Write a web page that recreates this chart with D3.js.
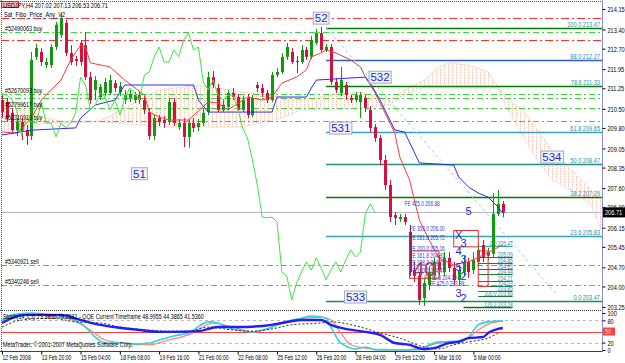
<!DOCTYPE html>
<html><head><meta charset="utf-8">
<script src="https://cdn.jsdelivr.net/npm/d3@7"></script>
<style>
html,body{margin:0;padding:0;background:#fff;}
svg{display:block;font-family:"Liberation Sans",Arial,sans-serif;}
</style></head><body>
<svg id="c" width="625" height="363"></svg>
<script>
// ---------- DATA ----------
const opens  = [210.82,210.75,210.35,209.72,210.02,209.72,209.50,212.40,212.58,212.10,212.10,212.76,213.20,213.64,212.54,212.32,212.91,212.83,211.66,211.19,210.93,211.08,211.08,211.44,211.11,210.82,210.90,210.82,211.00,210.82,210.38,209.50,210.16,210.09,210.02,210.75,209.83,209.98,209.47,209.98,209.83,209.98,210.38,211.66,211.26,210.46,210.57,211.08,210.93,210.46,210.90,210.27,211.37,211.26,211.08,210.82,211.74,211.85,212.40,212.58,212.25,212.21,212.65,212.40,212.91,213.27,212.65,212.76,211.48,211.08,211.37,210.90,210.82,210.75,210.90,210.46,209.83,209.43,208.63,207.71,206.61,206.47,206.54,206.00,204.60,204.39,203.58,204.06,204.42,204.90,204.53,205.05,204.68,204.24,204.53,204.90,204.60,204.90,205.52,205.12,205.19,206.65,207.02];
const highs  = [211.00,210.90,210.53,210.16,210.16,209.91,212.58,212.87,212.72,212.36,212.87,213.68,214.00,213.75,212.83,212.43,213.02,213.31,211.85,211.70,211.41,211.63,211.74,211.55,211.48,211.19,211.19,211.11,211.11,210.97,210.53,210.31,210.27,210.24,210.90,210.90,210.13,210.16,210.13,210.16,210.13,210.53,211.85,211.88,211.41,210.82,211.19,211.26,211.04,210.97,211.04,211.00,211.48,211.41,211.19,211.85,211.99,212.54,212.91,212.72,212.43,212.83,212.76,213.16,213.42,213.49,212.87,212.87,211.63,212.03,211.48,211.00,211.11,211.11,211.00,210.60,209.94,209.54,208.81,207.90,206.72,206.65,206.65,206.25,204.90,204.53,204.27,204.75,205.05,205.16,205.26,205.26,204.90,204.79,205.12,205.05,205.26,205.56,205.70,205.41,207.42,207.53,207.13];
const lows   = [210.16,210.02,209.61,209.50,209.36,209.18,209.36,212.29,212.07,211.99,211.99,212.65,213.09,212.43,212.10,212.07,212.07,211.55,210.68,210.82,210.82,210.97,211.00,211.11,210.97,210.68,210.75,210.71,210.68,210.31,209.36,209.36,209.87,209.80,209.91,209.87,209.72,209.10,209.07,209.65,209.69,209.87,210.27,211.26,210.38,210.38,210.46,210.82,210.35,210.38,210.16,210.20,211.11,210.93,210.71,210.75,211.66,211.77,212.29,212.14,211.81,212.14,212.29,212.32,212.83,212.58,212.58,211.37,211.08,210.97,210.82,210.71,210.75,210.16,210.38,209.65,209.29,208.44,207.53,206.36,206.25,206.36,206.25,204.39,204.17,203.32,203.29,203.87,204.24,204.42,204.39,204.53,204.06,204.02,204.39,204.31,204.46,204.75,204.90,204.97,205.08,206.58,206.53];
const closes = [210.38,210.16,209.72,210.02,209.65,209.50,212.29,212.72,212.21,212.21,212.76,213.57,213.82,212.54,212.21,212.25,212.21,211.66,210.82,211.55,211.30,211.48,211.55,211.26,211.33,211.00,211.04,211.00,210.82,210.46,209.50,210.16,210.02,209.98,210.75,209.98,209.98,209.47,209.98,209.80,209.98,210.35,211.66,211.37,210.46,210.64,211.08,210.93,210.46,210.82,210.27,210.90,211.26,211.08,210.82,211.74,211.85,212.40,212.76,212.21,212.21,212.65,212.40,213.02,213.27,212.65,212.76,211.48,211.19,211.55,211.00,210.82,211.00,211.00,210.53,209.80,209.43,208.63,207.71,206.54,206.51,206.54,206.36,204.53,204.39,203.51,204.13,204.53,204.90,204.60,205.05,204.68,204.24,204.60,204.90,204.53,204.97,205.34,205.08,205.26,206.65,207.02,206.71];

// red & blue indicator lines: [bar, price]
const redLine = [[0,209.65],[3,209.61],[6,210.16],[8,210.82],[12,211.55],[14,212.29],[16,212.83],[17,212.76],[18,212.18],[22,212.03],[25,211.55],[29,211.00],[30,210.38],[32,210.20],[34,210.09],[38,210.09],[42,210.75],[44,210.71],[46,210.46],[50,210.93],[53,210.82],[55,210.93],[57,211.44],[60,211.66],[62,211.92],[63,212.40],[65,212.54],[66,212.65],[68,212.54],[71,212.29],[73,212.03],[74,211.66],[76,211.08],[78,210.35],[80,209.61],[81,208.74],[83,207.90],[84,207.16],[85,206.43],[87,205.70],[89,205.04],[92,204.79],[95,204.90],[98,205.15],[102,205.52]];
const blueLine = [[0,209.54],[6,209.72],[15,209.80],[16,210.16],[19,210.64],[23,210.82],[25,211.37],[39,211.37],[40,210.82],[42,210.38],[55,210.38],[56,210.93],[62,210.93],[63,211.26],[64,211.55],[74,211.66],[75,211.44],[77,210.82],[80,209.72],[82,209.65],[85,208.52],[92,208.44],[93,208.01],[95,207.64],[97,207.42],[99,207.27],[101,206.91],[102,206.69]];

// ichimoku cloud (bar index incl. future bars)
const cloudIdx = [0,4,8,12,20,28,32,40,49,57,61,67,73,79,82,86,89,91,95,99,101,103,106,109,112,116,120,122];
const spanA = [210.82,210.64,210.20,210.05,210.05,210.82,211.19,211.37,211.11,210.93,210.82,211.00,211.11,210.82,211.19,211.55,212.03,212.18,212.10,211.85,211.30,210.82,210.46,209.72,208.99,208.26,207.53,207.16];
const spanB = [209.72,209.72,209.95,210.00,210.02,209.91,209.83,209.83,209.83,210.16,210.46,210.46,210.53,210.64,211.00,211.30,211.30,211.26,211.26,211.26,211.26,210.46,209.54,208.63,207.90,207.53,206.98,206.07];

// horizontal levels
const redLevels = [213.82, 213.02];
const orderPrices = [213.31, 211.04, 210.90, 210.53, 210.05, 204.79, 204.06];
const orderText = ["#52490063 buy","#52670093 buy","","#52799617 buy","#52310910 buy","#5340921 sell","#5340246 sell"];
const bidPrice = 206.71;

// main fibo
const fibLevels = [213.47,212.27,211.33,209.65,208.47,207.29,205.83,203.47];
const fibText = ["100.0  213.47","88.0  212.27","78.6  211.33","61.8  209.65","50.0  208.47","38.2  207.29","23.6  205.83","0.0  203.47"];
const fibColors = ["#007a00","#2a5bd0","#007a00","#34a2bc","#23907c","#007a00","#34a2bc","#1b8a5a"];
const fibStart = 66;
// small fibo near last bars
const smallFibLevels = [205.47,205.09,204.86,204.63,204.44,204.21,204.03,203.85,203.66];
const smallFibText = ["0.0  205.47","205.09","204.86","204.63","204.44","204.21","204.03","203.85","100.0  203.66"];
const extLevel = 203.24, extText = "120.2  203.24";

// trend line
const trend = [[66,213.47],[113,203.70]];

// wave labels
const waveText = ["52","532","531","534","51","533"];
const waveIdx = [65,77,69,112,28,72];
const wavePrice = [213.82,211.66,209.80,208.74,208.13,203.62];

// FE labels
const feText = ["FE 425.0  206.88","FE 300.0  206.00","FE 261.8  205.72","FE 200.0  205.16","FE 161.8  204.91","FE 138.2  204.75","FE 100.0  204.47","FE 61.8  204.19","FE 425.0  203.98"];
const feIdx = [82,83,83,83,83,83,83,86,87];
const fePrice = [206.94,206.03,205.70,205.30,205.03,204.77,204.50,204.25,204.02];
const blobText = ["X","3","4","3","5","2","3","2","5"];
const blobIdx = [93,94,93,94,93,94,93,94,95];
const blobPrice = [205.75,205.45,205.15,204.85,204.55,204.25,203.62,203.42,206.62];
const redBoxes = [[83,89,205.30,204.30],[92,97,206.05,205.45],[97,99,205.30,204.00]];

// oscillator series [bar, value]
const oscBlue = [[0,73],[2,86],[5,95],[10,95],[12,95],[16,81],[20,68],[24,60],[28,54],[32,49],[35,49],[40,51],[44,62],[48,62],[53,65],[57,73],[61,81],[65,81],[67,68],[70,57],[74,49],[77,41],[80,19],[83,14],[86,2],[88,5],[91,19],[93,22],[95,32],[98,35],[99,46],[101,57],[102,59.5]];
const oscCyan = [[0,81],[1,89],[2,95],[6,100],[10,95],[14,86],[17,62],[19,35],[21,19],[24,19],[27,16],[30,19],[32,27],[35,38],[38,46],[42,76],[44,73],[46,60],[48,54],[51,49],[54,57],[57,73],[61,86],[63,92],[66,86],[67,62],[69,19],[72,3],[74,8],[76,1],[78,1],[81,0],[85,1],[87,14],[89,22],[93,24],[95,35],[97,68],[99,76],[101,78],[102,78]];
const oscSalmon = [[0,81],[4,95],[13,86],[18,54],[21,27],[25,19],[30,14],[34,27],[38,41],[43,73],[47,62],[51,49],[55,62],[59,81],[65,89],[67,81],[69,46],[71,14],[74,5],[78,0],[82,0],[86,8],[89,19],[93,24],[95,32],[97,54],[99,70],[102,78]];
const oscDot = [[0,62],[4,81],[10,86],[15,76],[20,73],[24,62],[30,54],[34,51],[38,51],[42,62],[47,54],[51,51],[55,57],[59,68],[65,73],[67,76],[73,62],[77,46],[81,32],[86,8],[89,3],[92,14],[95,22],[99,32],[101,46]];
const oscLevels = [80, 20];
const oscMid = 50;

// axis labels
const priceTicks = [214.15,213.40,212.70,211.95,211.25,210.50,209.80,209.05,208.35,207.60,206.90,206.15,205.45,204.70,204.00,203.25];
const timeIdx = [0,8,16,24,32,40,48,56,64,72,80,88,96];
const timeLabels = ["12 Feb 2008","13 Feb 20:00","15 Feb 04:00","18 Feb 08:00","19 Feb 16:00","21 Feb 00:00","22 Feb 08:00","25 Feb 12:00","26 Feb 20:00","28 Feb 04:00","29 Feb 12:00","3 Mar 16:00","5 Mar 00:00"];
const oscTicks = [100, 80, 20, 0];
const headerText = "USDJPY,H4  207.02 207.13 206.53 206.71";
const indiName = "Sat_Fibo_Price_Any_V2";
const oscHeader = "Stoch(14,3,3) 73.3855 79.2581 - QQE Current Timeframe 48.9955 44.3865 41.5360";
const copyright = "MetaTrader, \u00a9 2001-2007 MetaQuotes Software Corp.";

// ---------- DRAW ----------
const svg = d3.select("#c");
const x = d3.scaleLinear().domain([0,122]).range([2, 2+122*4.91]);
const y = d3.scaleLinear().domain([203.25,214.15]).range([307,9]);
const yo = d3.scaleLinear().domain([0,100]).range([350,313]);
const RX = 602;

const defs = svg.append("defs");
defs.append("clipPath").attr("id","mclip").append("rect").attr("x",1).attr("y",2).attr("width",RX-1).attr("height",308);
defs.append("clipPath").attr("id","oclip").append("rect").attr("x",1).attr("y",311).attr("width",RX-1).attr("height",40);
const pat = defs.append("pattern").attr("id","hatch").attr("width",4).attr("height",2).attr("patternUnits","userSpaceOnUse");
pat.append("rect").attr("width",1).attr("height",1).attr("fill","#f4c2b2");

function stext(g, tx, ty, txt, o={}) {
  return g.append("text")
    .attr("transform", `translate(${tx},${ty}) scale(${o.sx||0.75},1)`)
    .attr("font-size", o.fs||7.5)
    .attr("fill", o.fill||"#000")
    .attr("text-anchor", o.anchor||"start")
    .attr("font-weight", o.fw||"normal")
    .text(txt);
}

const main = svg.append("g").attr("clip-path","url(#mclip)");

// cloud
const cloud = cloudIdx.map((d,k)=>({i:d,a:spanA[k],b:spanB[k]}));
main.append("path").datum(cloud)
  .attr("d", d3.area().x(d=>x(d.i)).y0(d=>y(d.b)).y1(d=>y(d.a)))
  .attr("fill","url(#hatch)");
main.append("path").datum(cloud).attr("d", d3.line().x(d=>x(d.i)).y(d=>y(d.a)))
  .attr("fill","none").attr("stroke","#f4b4a0").attr("stroke-dasharray","1,1");
main.append("path").datum(cloud).attr("d", d3.line().x(d=>x(d.i)).y(d=>y(d.b)))
  .attr("fill","none").attr("stroke","#cfc8e6").attr("stroke-dasharray","1,1");

// horizontal levels
redLevels.forEach(p=>{
  main.append("line").attr("x1",1).attr("x2",RX).attr("y1",Math.round(y(p))+0.5).attr("y2",Math.round(y(p))+0.5)
    .attr("stroke","#ff3030").attr("stroke-dasharray","8,3,2,3");
});
orderPrices.forEach((p,k)=>{
  const yy = Math.round(y(p))+0.5;
  main.append("line").attr("x1",1).attr("x2",RX).attr("y1",yy).attr("y2",yy)
    .attr("stroke","#3fd23f").attr("stroke-dasharray","6,3,2,3");
});
{
  const yy = Math.round(y(bidPrice))+0.5;
  main.append("line").attr("x1",1).attr("x2",RX).attr("y1",yy).attr("y2",yy).attr("stroke","#b4b4c8");
}

// fibo
fibLevels.forEach((p,k)=>{
  const yy = Math.round(y(p))+0.5;
  main.append("line").attr("x1",x(fibStart)).attr("x2",RX).attr("y1",yy).attr("y2",yy)
    .attr("stroke",fibColors[k]).attr("stroke-width",1.6);
  stext(main, RX-2, yy-2, fibText[k], {anchor:"end", fill:"#2a8ca6"});
});
// trend line
main.append("line").attr("x1",x(trend[0][0])).attr("y1",y(trend[0][1])).attr("x2",x(trend[1][0])).attr("y2",y(trend[1][1]))
  .attr("stroke","#7ddde6").attr("stroke-dasharray","3,3");

// small fibo
smallFibLevels.forEach((p,k)=>{
  const yy = Math.round(y(p))+0.5;
  main.append("line").attr("x1",x(97)).attr("x2",x(104)).attr("y1",yy).attr("y2",yy)
    .attr("stroke", k===0 ? "#34a2bc" : "#1d7a3a");
  stext(main, x(104), yy-1, smallFibText[k], {anchor:"end", fill:"#2a8ca6", fs:6.5});
});
{
  const yy = Math.round(y(extLevel))+0.5;
  main.append("line").attr("x1",x(94)).attr("x2",x(104)).attr("y1",yy).attr("y2",yy).attr("stroke","#007a00").attr("stroke-width",1.5);
  stext(main, x(104), yy-1, extText, {anchor:"end", fill:"#2a8ca6", fs:6.5});
}

// candles
const bars = opens.map((o,i)=>({i,o,h:highs[i],l:lows[i],c:closes[i]}));
const cg = main.append("g");
bars.forEach(d=>{
  const up = d.c >= d.o;
  const col = up ? "#109a10" : "#d4103c";
  const cx = Math.round(x(d.i));
  cg.append("line").attr("x1",cx+0.5).attr("x2",cx+0.5).attr("y1",y(d.h)).attr("y2",y(d.l)).attr("stroke",col);
  const top = y(Math.max(d.o,d.c)), bot = y(Math.min(d.o,d.c));
  cg.append("rect").attr("x",cx-1).attr("width",3).attr("y",top).attr("height",Math.max(1,bot-top)).attr("fill",col);
});

// indicator lines
main.append("path").datum(redLine).attr("d", d3.line().x(d=>x(d[0])).y(d=>y(d[1])))
  .attr("fill","none").attr("stroke","#ff3a3a");
main.append("path").datum(blueLine).attr("d", d3.line().x(d=>x(d[0])).y(d=>y(d[1])))
  .attr("fill","none").attr("stroke","#2a2aff");
const chikou = closes.slice(26).map((c,k)=>[k,c]);
main.append("path").datum(chikou).attr("d", d3.line().x(d=>x(d[0])).y(d=>y(d[1])))
  .attr("fill","none").attr("stroke","#3ee63e");

// order labels
orderPrices.forEach((p,k)=>{
  if (orderText[k]) stext(main, 5, Math.round(y(p))-1, orderText[k], {fs:7.2});
});

// red boxes + 40
redBoxes.forEach(b=>{
  main.append("rect").attr("x",x(b[0])).attr("y",y(b[2])).attr("width",x(b[1])-x(b[0])).attr("height",y(b[3])-y(b[2]))
    .attr("fill","none").attr("stroke","#e03030");
});
main.append("text").attr("x",x(86)).attr("y",y(204.40)).attr("text-anchor","middle")
  .attr("font-size",20).attr("fill","#e02828").text("40");

// FE labels
feText.forEach((t,k)=>stext(main, x(feIdx[k]), y(fePrice[k]), t, {fill:"#2a38d8", fs:6.8, sx:0.7}));
blobText.forEach((t,k)=>{
  main.append("text").attr("x",x(blobIdx[k])).attr("y",y(blobPrice[k])).attr("text-anchor","middle")
    .attr("font-size",11).attr("fill","#2626e6").text(t);
});

// wave labels
waveText.forEach((t,k)=>{
  const g = main.append("g");
  const tx = g.append("text").attr("x",x(waveIdx[k])).attr("y",y(wavePrice[k])).attr("dy","0.36em")
    .attr("text-anchor","middle").attr("font-size",11.5).attr("fill","#2626d8").text(t);
  const bb = tx.node().getBBox();
  g.insert("rect","text").attr("x",bb.x-1.5).attr("y",bb.y).attr("width",bb.width+3).attr("height",bb.height)
    .attr("fill","#f2f3f9").attr("stroke","#a4a8c4");
});

// header
svg.append("rect").attr("x",1.5).attr("y",1.5).attr("width",17).attr("height",6).attr("fill","#ffb0b0").attr("stroke","#e02020");
stext(svg, 3, 8, headerText, {fs:7.5});
stext(svg, 4, 16.5, indiName, {fs:7.5});

// ---------- OSCILLATOR ----------
const osc = svg.append("g").attr("clip-path","url(#oclip)");
oscLevels.forEach(v=>{
  osc.append("line").attr("x1",1).attr("x2",RX).attr("y1",Math.round(yo(v))+0.5).attr("y2",Math.round(yo(v))+0.5)
    .attr("stroke","#b8b8b8").attr("stroke-dasharray","3,3");
});
osc.append("line").attr("x1",1).attr("x2",RX).attr("y1",Math.round(yo(oscMid))+0.5).attr("y2",Math.round(yo(oscMid))+0.5)
  .attr("stroke","#ff3c3c");
stext(svg, 3, 318.5, oscHeader, {fs:7.2});
stext(svg, 3, 347, copyright, {fs:7.2});
const ol = d3.line().x(d=>x(d[0])).y(d=>yo(d[1])).curve(d3.curveMonotoneX);
osc.append("path").datum(oscSalmon).attr("d",ol).attr("fill","none").attr("stroke","#ff7f7f").attr("stroke-width",1.2);
osc.append("path").datum(oscCyan).attr("d",ol).attr("fill","none").attr("stroke","#2ed6d6").attr("stroke-width",1.6);
osc.append("path").datum(oscDot).attr("d",ol).attr("fill","none").attr("stroke","#303030").attr("stroke-dasharray","2,2");
osc.append("path").datum(oscBlue).attr("d",ol).attr("fill","none").attr("stroke","#1e1eff").attr("stroke-width",2.4);

// ---------- FRAMES ----------
svg.append("line").attr("x1",0).attr("x2",RX).attr("y1",1.5).attr("y2",1.5).attr("stroke","#606060").attr("stroke-dasharray","1,1");
svg.append("line").attr("x1",1.5).attr("x2",1.5).attr("y1",0).attr("y2",351).attr("stroke","#606060").attr("stroke-dasharray","1,1");
svg.append("line").attr("x1",0).attr("x2",RX).attr("y1",310.5).attr("y2",310.5).attr("stroke","#404040").attr("stroke-dasharray","1,1");
svg.append("line").attr("x1",0).attr("x2",RX).attr("y1",351.5).attr("y2",351.5).attr("stroke","#404040");
svg.append("line").attr("x1",RX+0.5).attr("x2",RX+0.5).attr("y1",0).attr("y2",352).attr("stroke","#8c8cc8");

// price axis
const ax = svg.append("g").attr("transform",`translate(${RX+0.5},0)`)
  .call(d3.axisRight(y).tickValues(priceTicks).tickSize(3).tickFormat(d3.format(".2f")));
ax.attr("font-size",7.5).attr("font-family","Liberation Sans, Arial, sans-serif");
ax.select(".domain").remove();
ax.selectAll("line").attr("stroke","#000");
ax.selectAll("text").attr("x",null).attr("dy",null).attr("fill","#000")
  .attr("transform","translate(5,2.6) scale(0.75,1)");

// current price box
{
  const yy = y(bidPrice);
  svg.append("rect").attr("x",RX+1).attr("y",yy-5).attr("width",22).attr("height",10).attr("fill","#000");
  stext(svg, RX+3, yy+2.6, "206.71", {fill:"#fff"});
}

// osc axis
const oax = svg.append("g").attr("transform",`translate(${RX+0.5},0)`)
  .call(d3.axisRight(yo).tickValues(oscTicks).tickSize(3));
oax.attr("font-size",7.5).attr("font-family","Liberation Sans, Arial, sans-serif");
oax.select(".domain").remove();
oax.selectAll("line").attr("stroke","#000");
oax.selectAll("text").attr("x",null).attr("dy",null).attr("fill","#000")
  .attr("transform","translate(5,2.6) scale(0.75,1)");
{
  const yy = yo(oscMid);
  svg.append("rect").attr("x",RX+1).attr("y",yy-4).attr("width",12).attr("height",8).attr("fill","#ff4040");
  stext(svg, RX+3, yy+2.6, "50", {fill:"#ffd0d0"});
}

// time axis
const tax = svg.append("g").attr("transform","translate(0,351.5)")
  .call(d3.axisBottom(x).tickValues(timeIdx).tickSize(3).tickFormat((d,k)=>timeLabels[k]));
tax.attr("font-size",7).attr("font-family","Liberation Sans, Arial, sans-serif");
tax.select(".domain").remove();
tax.selectAll("line").attr("stroke","#000");
tax.selectAll("text").attr("y",null).attr("dy",null).attr("fill","#000").attr("text-anchor","start")
  .attr("transform","translate(0,8.5) scale(0.72,1)");
</script></body></html>
